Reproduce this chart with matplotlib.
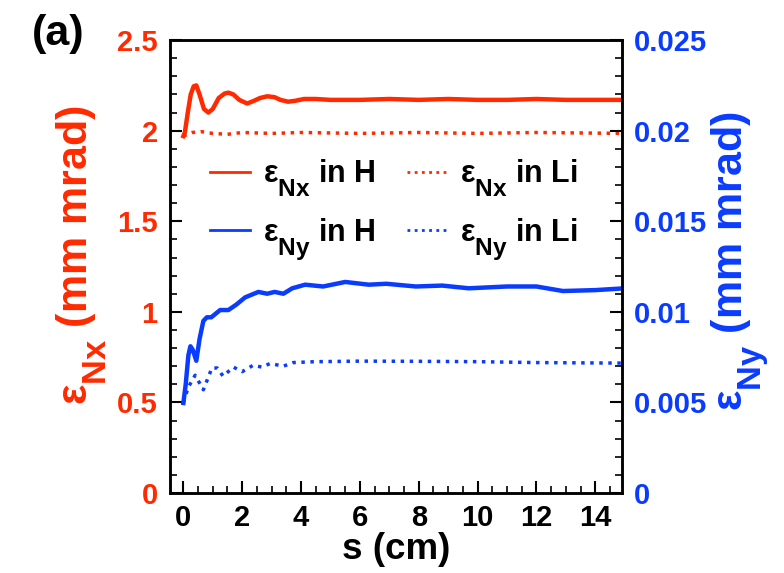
import matplotlib
matplotlib.use('Agg')
import matplotlib.pyplot as plt
import matplotlib._mathtext as mt
from matplotlib.ticker import MultipleLocator

plt.rcParams['font.family'] = 'Liberation Sans'
plt.rcParams['font.weight'] = 'bold'
plt.rcParams['mathtext.fontset'] = 'custom'
plt.rcParams['mathtext.rm'] = 'Liberation Sans:bold'
plt.rcParams['mathtext.it'] = 'Liberation Sans:bold'
plt.rcParams['mathtext.bf'] = 'Liberation Sans:bold'
# bigger, lower subscripts like the original figure
mt.SHRINK_FACTOR = 0.8
mt.FontConstantsBase.sub1 = 0.85

# x emittance in H (left axis, mm mrad)
s_xh = [0.0, 0.05, 0.15, 0.25, 0.35, 0.44, 0.55, 0.7, 0.85, 1.0, 1.2, 1.4, 1.53, 1.7, 1.9, 2.17, 2.4,
        2.6, 2.85, 3.1, 3.3, 3.56, 3.8, 4.1, 4.5, 5.0, 6.0, 7.0, 8.0, 9.0, 10.0, 11.0, 12.0, 13.0,
        14.0, 15.0]
ex_h = [1.97, 1.99, 2.1, 2.2, 2.245, 2.25, 2.2, 2.12, 2.1, 2.12, 2.18, 2.205, 2.21, 2.2, 2.17, 2.15,
        2.165, 2.18, 2.19, 2.185, 2.17, 2.16, 2.165, 2.175, 2.175, 2.17, 2.17, 2.175, 2.17, 2.175,
        2.17, 2.17, 2.175, 2.17, 2.17, 2.17]
# x emittance in Li (left axis)
s_xl = [0.0, 0.3, 0.6, 1.0, 1.5, 2.0, 3.0, 4.0, 6.0, 8.0, 10.0, 12.0, 15.0]
ex_l = [1.97, 1.99, 1.995, 1.985, 1.98, 1.99, 1.985, 1.99, 1.985, 1.99, 1.985, 1.99, 1.985]

# y emittance in H (right axis, mm mrad)
s_yh = [0.0, 0.08, 0.17, 0.24, 0.32, 0.44, 0.55, 0.68, 0.8, 0.95, 1.1, 1.25, 1.53, 1.8, 2.1, 2.55,
        2.85, 3.1, 3.4, 3.7, 4.14, 4.75, 5.5, 6.3, 6.9, 7.9, 8.8, 9.7, 11.0, 12.0, 12.9, 14.0, 15.0]
ey_h = [0.00497, 0.0060, 0.0076, 0.0081, 0.0079, 0.0073, 0.0085, 0.0095, 0.0097, 0.0097, 0.0099,
        0.0101, 0.0101, 0.0104, 0.0108, 0.0111, 0.0110, 0.0111, 0.0110, 0.0113, 0.0115, 0.0114,
        0.01165, 0.0115, 0.01155, 0.0114, 0.01145, 0.0113, 0.0114, 0.0114, 0.01115, 0.0112, 0.0113]
# y emittance in Li (right axis)
s_yl = [0.0, 0.17, 0.4, 0.68, 0.97, 1.15, 1.35, 1.7, 2.0, 2.37, 2.67, 2.95, 3.4, 3.73, 4.5, 6.0, 8.0,
        10.0, 12.0, 15.0]
ey_l = [0.0050, 0.00585, 0.0065, 0.0057, 0.0069, 0.0069, 0.00645, 0.00695, 0.0067, 0.00705, 0.00695,
        0.00715, 0.0070, 0.0072, 0.00725, 0.00728, 0.00727, 0.00725, 0.0072, 0.00717]

red = '#ff2a00'
blue = '#0a3cff'

fig = plt.figure(figsize=(7.84, 5.73), dpi=100)
ax = fig.add_axes([0.217, 0.1396, 0.576, 0.7904])
ax2 = ax.twinx()

l1, = ax.plot(s_xh, ex_h, color=red, lw=3.2, label=r'$\mathrm{ε_{Nx}}$ in H')
l2, = ax.plot(s_xl, ex_l, color=red, lw=2.5, ls=(0, (1, 1.6)), label=r'$\mathrm{ε_{Nx}}$ in Li')
l3, = ax2.plot(s_yh, ey_h, color=blue, lw=3.2, label=r'$\mathrm{ε_{Ny}}$ in H')
l4, = ax2.plot(s_yl, ey_l, color=blue, lw=2.5, ls=(0, (1, 1.6)), label=r'$\mathrm{ε_{Ny}}$ in Li')

ax.set_xlim(-0.45, 14.9)
ax.set_ylim(0, 2.5)
ax2.set_ylim(0, 0.025)

ax.xaxis.set_major_locator(MultipleLocator(2))
ax.xaxis.set_minor_locator(MultipleLocator(0.5))
ax.yaxis.set_minor_locator(MultipleLocator(0.1))
ax2.yaxis.set_minor_locator(MultipleLocator(0.001))
ax.set_yticks([0, 0.5, 1, 1.5, 2, 2.5], ['0', '0.5', '1', '1.5', '2', '2.5'])
ax2.set_yticks([0, 0.005, 0.01, 0.015, 0.02, 0.025], ['0', '0.005', '0.01', '0.015', '0.02', '0.025'])

for a in (ax, ax2):
    a.tick_params(which='major', direction='in', length=8.5, width=1.5, labelsize=21, pad=9)
    a.tick_params(which='minor', direction='in', length=5, width=1.2)
    for sp in a.spines.values():
        sp.set_linewidth(1.8)
ax.tick_params(axis='x', pad=8)
ax.tick_params(axis='y', colors='black', labelcolor=red)
ax2.tick_params(axis='y', colors='black', labelcolor=blue)

ax.set_xlabel('s (cm)', fontsize=26.5, fontweight='bold', labelpad=0)
ax.set_ylabel(r'$\mathrm{ε_{Nx}}$ (mm mrad)', fontsize=31, color=red, fontweight='bold')
ax2.set_ylabel(r'$\mathrm{ε_{Ny}}$ (mm mrad)', fontsize=31, color=blue, fontweight='bold', rotation=90)
ax.yaxis.set_label_coords(-0.135, 0.525)
ax2.yaxis.set_label_coords(1.195, 0.512)

leg = ax.legend(handles=[l1, l3, l2, l4], ncol=2, frameon=False, fontsize=22,
                loc='upper left', bbox_to_anchor=(0.088, 0.74), borderaxespad=0, borderpad=0,
                handlelength=1.3, columnspacing=1.0, labelspacing=0.55, handletextpad=0.45)
for h in leg.legend_handles:
    h.set_linewidth(2)

fig.text(0.041, 0.921, '(a)', fontsize=31, fontweight='bold', va='baseline')

fig.savefig('out.png', dpi=100)
